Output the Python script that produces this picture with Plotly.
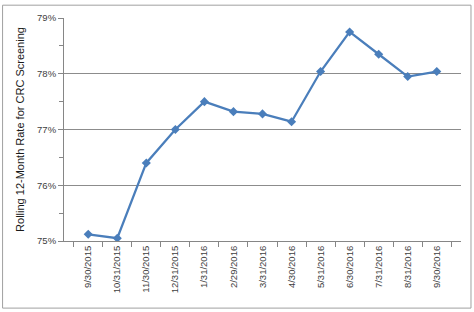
import plotly.graph_objects as go

dates = ["9/30/2015", "10/31/2015", "11/30/2015", "12/31/2015", "1/31/2016", "2/29/2016",
         "3/31/2016", "4/30/2016", "5/31/2016", "6/30/2016", "7/31/2016", "8/31/2016", "9/30/2016"]
rates = [75.12, 75.05, 76.40, 77.00, 77.50, 77.32, 77.28, 77.14, 78.04, 78.75, 78.35, 77.95, 78.04]
y_ticks = [75, 76, 77, 78, 79]
y_labels = ["75%", "76%", "77%", "78%", "79%"]

W, H = 474, 312
ml, mr, mt, mb = 63.5, 13, 15, 71
pw, ph = W - ml - mr, H - mt - mb

fig = go.Figure(go.Scatter(
    x=dates, y=rates, mode="lines+markers",
    line=dict(color="#4A7EBB", width=2.25),
    marker=dict(symbol="diamond", size=7, color="#4A7EBB"),
))

fig.update_layout(
    width=W, height=H,
    margin=dict(l=ml, r=mr, t=mt, b=mb),
    paper_bgcolor="white", plot_bgcolor="white",
    showlegend=False,
    font=dict(family="Liberation Sans, Arial, sans-serif", size=9.5, color="#404040"),
    xaxis=dict(
        type="category", tickangle=-90, tickson="boundaries",
        ticks="outside", ticklen=5, tickcolor="#868686",
        showline=True, linecolor="#868686", linewidth=1,
        showgrid=False, tickfont=dict(size=9.5),
    ),
    yaxis=dict(
        range=[75, 79], tickvals=y_ticks, ticktext=y_labels,
        ticks="outside", ticklen=5, tickcolor="#868686",
        showline=True, linecolor="#868686", linewidth=1,
        showgrid=True, gridcolor="#8C8C8C", gridwidth=1,
        minor=dict(ticks="outside", dtick=0.5, ticklen=4, tickcolor="#868686", showgrid=False),
        tickfont=dict(size=9.5),
        title=dict(text="Rolling 12-Month Rate for CRC Screening", font=dict(size=11, color="#1a1a1a"), standoff=10),
        zeroline=False,
    ),
    shapes=[dict(
        type="rect", xref="paper", yref="paper",
        x0=(2 - ml) / pw, x1=(471 - ml) / pw,
        y0=(H - mb - 309) / ph, y1=(H - mb - 2) / ph,
        line=dict(color="#A0A0A0", width=1), fillcolor="rgba(0,0,0,0)", layer="below",
    )],
)

fig.write_html("out.html")
